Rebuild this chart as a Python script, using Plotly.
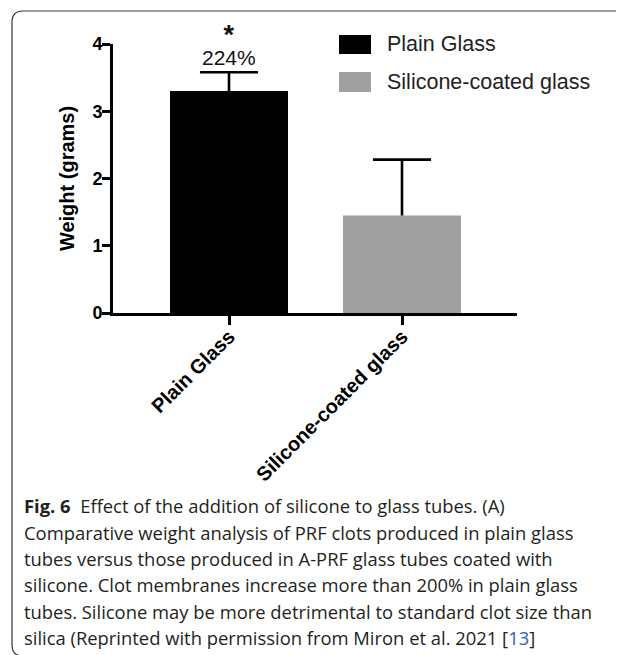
import plotly.graph_objects as go

# ---- data ----
categories = ["Plain Glass", "Silicone-coated glass"]
weights = [3.3, 1.45]
err_plus = [0.28, 0.83]
bar_colors = ["#000000", "#a0a0a0"]
y_ticks = [0, 1, 2, 3, 4]
pct_label = "224%"
sig_label = "*"
caption_lines = [
    "<b>Fig. 6</b>&nbsp;&nbsp;Effect of the addition of silicone to glass tubes. (A)",
    "Comparative weight analysis of PRF clots produced in plain glass",
    "tubes versus those produced in A-PRF glass tubes coated with",
    "silicone. Clot membranes increase more than 200% in plain glass",
    "tubes. Silicone may be more detrimental to standard clot size than",
    "silica (Reprinted with permission from Miron et al. 2021 [<span style='color:#2a62b4'>13</span>]",
]

# The page body has an 8px default margin; design in reference pixels and shift.
OFF = 8
W, H = 624 - OFF, 655 - OFF
PL, PR, PT, PB = 113, 517, 44, 313          # plot box in reference pixels
L, T = PL - OFF, PT - OFF
R, B = W - (PR - OFF), H - (PB - OFF)
PW, PH = W - L - R, H - T - B


def fx(px):
    return (px - OFF - L) / PW


def fy(py):
    return (H - B - (py - OFF)) / PH


FONT = "Liberation Sans, Arial, sans-serif"
xpos = list(range(len(categories)))
BAR_W = 0.682
CAP_HALF = 0.168

fig = go.Figure()
for xp, cat, val, col in zip(xpos, categories, weights, bar_colors):
    fig.add_trace(go.Bar(
        x=[xp], y=[val], width=BAR_W,
        marker=dict(color=col, line=dict(width=0)),
        name=cat, showlegend=False,
    ))

# error bars (upper only) built from the data arrays
for xp, val, e in zip(xpos, weights, err_plus):
    fig.add_trace(go.Scatter(
        x=[xp, xp, None, xp - CAP_HALF, xp + CAP_HALF],
        y=[val, val + e, None, val + e, val + e],
        mode="lines", line=dict(color="#000000", width=2.6),
        showlegend=False, hoverinfo="skip",
    ))

fig.update_layout(
    width=W, height=H,
    margin=dict(l=L, r=R, t=T, b=B, autoexpand=False),
    paper_bgcolor="white", plot_bgcolor="white",
    font=dict(family=FONT, color="#000000"),
)
fig.update_xaxes(
    range=[-0.6705, 1.6647], tickvals=xpos, ticktext=categories,
    showline=True, linewidth=3, linecolor="#000",
    ticks="outside", ticklen=9, tickwidth=3, tickcolor="#000",
    tickangle=-45, tickfont=dict(family=FONT, size=20, color="#000", weight="bold"),
    ticklabelstandoff=-8,
    showgrid=False, zeroline=False, fixedrange=True,
)
fig.update_yaxes(
    range=[0, 4], tickvals=y_ticks, showline=True, linewidth=3, linecolor="#000",
    ticks="outside", ticklen=8, tickwidth=3, tickcolor="#000",
    tickfont=dict(family=FONT, size=18, color="#000", weight="bold"),
    ticklabelstandoff=-4,
    title=dict(text="Weight (grams)", font=dict(family=FONT, size=20, color="#000", weight="bold"), standoff=13),
    showgrid=False, zeroline=False, fixedrange=True,
)

# significance label (asterisk + percentage) above the Plain Glass error bar
top0 = weights[0] + err_plus[0]
fig.add_annotation(
    x=xpos[0], y=top0,
    text=f"<span style='font-size:27px'><b>{sig_label}</b></span><br>"
         f"<span style='font-size:21px'>{pct_label}</span>",
    showarrow=False, yanchor="bottom", yshift=1,
    font=dict(family=FONT, size=16, color="#111"),
)

# legend swatches + labels
leg_y = [(35, 54), (72, 92)]
for cat, col, (y0, y1) in zip(categories, bar_colors, leg_y):
    fig.add_shape(type="rect", xref="paper", yref="paper",
                  x0=fx(339), x1=fx(371), y0=fy(y1), y1=fy(y0),
                  fillcolor=col, line=dict(width=0))
    fig.add_annotation(xref="paper", yref="paper", x=fx(385), y=fy((y0 + y1) / 2),
                       text=cat, showarrow=False, xanchor="left", yanchor="middle",
                       font=dict(family=FONT, size=21.5, color="#222"))

# card border
fig.add_shape(type="path", xref="paper", yref="paper",
              path=f"M {fx(12)},{fy(645)} L {fx(12)},{fy(22)} Q {fx(12)},{fy(11)} {fx(23)},{fy(11)}",
              line=dict(color="#333", width=1.2))
fig.add_shape(type="path", xref="paper", yref="paper",
              path=f"M {fx(23)},{fy(11)} L {fx(640)},{fy(11)}",
              line=dict(color="#808080", width=1.5))
fig.add_shape(type="path", xref="paper", yref="paper",
              path=f"M {fx(12)},{fy(645)} Q {fx(12)},{fy(656)} {fx(23)},{fy(656)}",
              line=dict(color="#333", width=1.2))

# caption
cap_y = [505, 532, 558, 585, 611, 637]
for txt, cy in zip(caption_lines, cap_y):
    fig.add_annotation(xref="paper", yref="paper", x=fx(22), y=fy(cy), text=txt,
                       showarrow=False, xanchor="left", yanchor="middle",
                       font=dict(family="Open Sans, Noto Sans, sans-serif", size=18.4, color="#231f20"))

fig.write_html("out.html")
